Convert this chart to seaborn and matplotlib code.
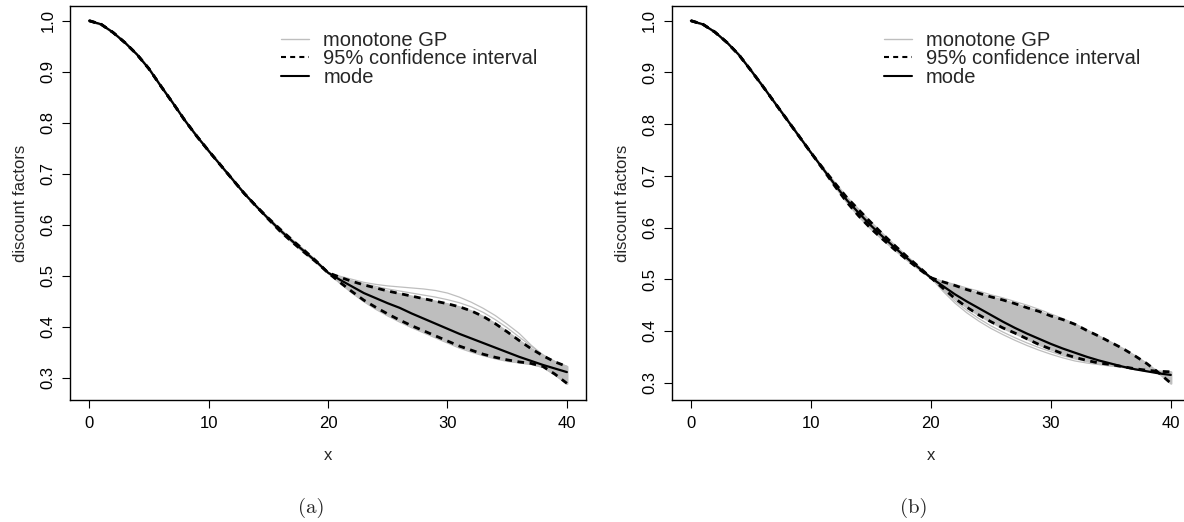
import numpy as np
import matplotlib
matplotlib.use("Agg")
import matplotlib.pyplot as plt
from matplotlib.lines import Line2D
import seaborn as sns

# ---------------- data ----------------
x_grid = list(range(0, 41))
x_tail = list(range(20, 41))

mode_a = [1.000, 0.993, 0.977, 0.957, 0.934, 0.906, 0.872, 0.839, 0.805, 0.774,
          0.745, 0.717, 0.689, 0.661, 0.636, 0.612, 0.589, 0.568, 0.548, 0.528,
          0.506, 0.492, 0.479, 0.466, 0.456, 0.446, 0.437, 0.426, 0.416, 0.406,
          0.396, 0.386, 0.377, 0.368, 0.359, 0.350, 0.341, 0.333, 0.325, 0.318,
          0.311]
ci_hi_a = [1.000, 0.993, 0.977, 0.957, 0.934, 0.906, 0.872, 0.839, 0.805, 0.774,
           0.745, 0.717, 0.689, 0.661, 0.636, 0.613, 0.591, 0.570, 0.550, 0.529,
           0.506, 0.497, 0.489, 0.482, 0.476, 0.470, 0.465, 0.460, 0.455, 0.450,
           0.445, 0.439, 0.431, 0.420, 0.406, 0.390, 0.373, 0.357, 0.343, 0.331,
           0.322]
ci_lo_a = [1.000, 0.993, 0.977, 0.957, 0.934, 0.906, 0.872, 0.839, 0.805, 0.774,
           0.745, 0.717, 0.689, 0.661, 0.636, 0.611, 0.587, 0.566, 0.546, 0.527,
           0.506, 0.487, 0.469, 0.452, 0.438, 0.425, 0.413, 0.402, 0.392, 0.382,
           0.372, 0.362, 0.354, 0.346, 0.340, 0.335, 0.331, 0.328, 0.322, 0.307,
           0.289]
gp_a_out1 = [0.506, 0.499, 0.493, 0.487, 0.483, 0.480, 0.478, 0.476, 0.474, 0.471,
             0.466, 0.458, 0.448, 0.436, 0.422, 0.405, 0.387, 0.364, 0.344, 0.331,
             0.322]
gp_a_out2 = [0.506, 0.497, 0.490, 0.484, 0.479, 0.474, 0.470, 0.466, 0.462, 0.458,
             0.453, 0.447, 0.439, 0.428, 0.414, 0.398, 0.380, 0.362, 0.345, 0.332,
             0.322]
gp_a_out3 = [0.506, 0.485, 0.466, 0.449, 0.434, 0.421, 0.409, 0.398, 0.388, 0.378,
             0.368, 0.358, 0.350, 0.343, 0.337, 0.332, 0.329, 0.326, 0.320, 0.305,
             0.288]

mode_b = [1.000, 0.993, 0.978, 0.958, 0.934, 0.904, 0.873, 0.841, 0.809, 0.777,
          0.745, 0.714, 0.683, 0.653, 0.628, 0.604, 0.582, 0.561, 0.541, 0.522,
          0.503, 0.487, 0.471, 0.457, 0.444, 0.431, 0.418, 0.406, 0.395, 0.385,
          0.375, 0.366, 0.358, 0.350, 0.343, 0.337, 0.331, 0.326, 0.322, 0.318,
          0.315]
ci_hi_b = [1.000, 0.993, 0.978, 0.958, 0.934, 0.904, 0.873, 0.841, 0.809, 0.777,
           0.745, 0.715, 0.686, 0.658, 0.634, 0.610, 0.587, 0.565, 0.544, 0.524,
           0.503, 0.495, 0.488, 0.480, 0.473, 0.466, 0.460, 0.453, 0.445, 0.438,
           0.429, 0.422, 0.413, 0.401, 0.390, 0.378, 0.366, 0.352, 0.337, 0.319,
           0.299]
ci_lo_b = [1.000, 0.993, 0.978, 0.958, 0.934, 0.904, 0.873, 0.841, 0.809, 0.777,
           0.745, 0.713, 0.680, 0.649, 0.622, 0.598, 0.577, 0.557, 0.538, 0.520,
           0.503, 0.483, 0.463, 0.446, 0.431, 0.418, 0.406, 0.396, 0.385, 0.374,
           0.365, 0.356, 0.349, 0.343, 0.338, 0.335, 0.331, 0.327, 0.324, 0.322,
           0.321]
gp_b_out1 = [0.503, 0.496, 0.490, 0.483, 0.477, 0.470, 0.464, 0.457, 0.450, 0.442,
             0.433, 0.424, 0.414, 0.402, 0.390, 0.378, 0.365, 0.351, 0.336, 0.318,
             0.300]
gp_b_out2 = [0.503, 0.480, 0.458, 0.440, 0.424, 0.410, 0.398, 0.387, 0.377, 0.368,
             0.360, 0.352, 0.346, 0.341, 0.337, 0.334, 0.331, 0.327, 0.324, 0.322,
             0.321]
gp_b_out3 = [0.503, 0.477, 0.454, 0.435, 0.419, 0.405, 0.393, 0.382, 0.372, 0.363,
             0.355, 0.348, 0.342, 0.338, 0.335, 0.332, 0.330, 0.327, 0.324, 0.322,
             0.320]

x_ticks = [0, 10, 20, 30, 40]
y_ticks = [0.3, 0.4, 0.5, 0.6, 0.7, 0.8, 0.9, 1.0]
y_tick_labels = ["0.3", "0.4", "0.5", "0.6", "0.7", "0.8", "0.9", "1.0"]
legend_labels = ["monotone GP", "95% confidence interval", "mode"]
captions = ["(a)", "(b)"]

# ---------------- style ----------------
sns.set_style("ticks")
plt.rcParams["font.family"] = ["Liberation Sans", "DejaVu Sans"]

GRAY = "#BEBEBE"
DASH = (0, (2.4, 2.0))

fig = plt.figure(figsize=(11.84, 5.22), dpi=100)
W, H = 1184.0, 522.0
ax_a = fig.add_axes([70 / W, 1 - 400 / H, 516 / W, 394 / H])
ax_b = fig.add_axes([671.7 / W, 1 - 400 / H, 518.3 / W, 394 / H])

panels = [
    (ax_a, mode_a, ci_hi_a, ci_lo_a, [gp_a_out1, gp_a_out2, gp_a_out3], (0.2563, 1.0288)),
    (ax_b, mode_b, ci_hi_b, ci_lo_b, [gp_b_out1, gp_b_out2, gp_b_out3], (0.2665, 1.0284)),
]

for ax, mode, hi, lo, outs, ylim in panels:
    ax.fill_between(x_grid, lo, hi, color=GRAY, lw=1.6, edgecolor=GRAY, zorder=1)
    for o in outs:
        sns.lineplot(x=x_tail, y=o, ax=ax, color=GRAY, lw=0.9, zorder=1.5)
    sns.lineplot(x=x_grid, y=hi, ax=ax, color="black", lw=2.0, linestyle=DASH, zorder=3)
    sns.lineplot(x=x_grid, y=lo, ax=ax, color="black", lw=2.0, linestyle=DASH, zorder=3)
    sns.lineplot(x=x_grid, y=mode, ax=ax, color="black", lw=1.6, zorder=4)

    ax.set_xlim(-1.6, 41.6)
    ax.set_ylim(*ylim)
    ax.set_xticks(x_ticks)
    ax.set_xticklabels([str(t) for t in x_ticks])
    ax.set_yticks(y_ticks)
    ax.set_yticklabels(y_tick_labels, rotation=90, va="center")
    ax.tick_params(axis="both", direction="out", length=5.5, width=0.8,
                   color="black", labelsize=12, labelcolor="black")
    ax.tick_params(axis="x", pad=6)
    ax.tick_params(axis="y", pad=5)
    for s in ax.spines.values():
        s.set_visible(True)
        s.set_color("black")
        s.set_linewidth(1.0)
    ax.set_xlabel("x", fontsize=12, labelpad=12.5)
    ax.set_ylabel("discount factors", fontsize=12, labelpad=9)
    ax.set_facecolor("white")

    handles = [
        Line2D([], [], color=GRAY, lw=1.0),
        Line2D([], [], color="black", lw=1.5, linestyle=(0, (2.4, 2.0))),
        Line2D([], [], color="black", lw=1.5),
    ]
    ax.legend(handles, legend_labels, loc="upper left", bbox_to_anchor=(0.409, 0.937),
              frameon=False, fontsize=14.5, handlelength=1.4, handletextpad=0.7,
              labelspacing=-0.03, borderpad=0, borderaxespad=0)

fig.text(311 / W, 1 - 508 / H, captions[0], ha="center", va="center",
         family=["cmr10", "DejaVu Serif"], fontsize=15)
fig.text(914 / W, 1 - 508 / H, captions[1], ha="center", va="center",
         family=["cmr10", "DejaVu Serif"], fontsize=15)

fig.savefig("out.png", dpi=100, facecolor="white")
